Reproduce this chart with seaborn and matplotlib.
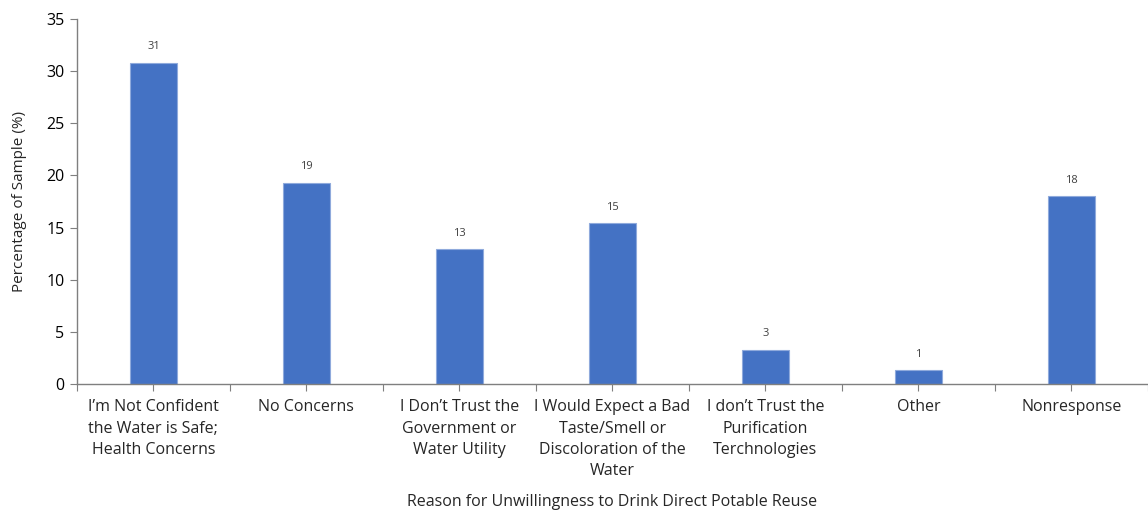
import matplotlib
matplotlib.use("Agg")
import matplotlib.pyplot as plt
import seaborn as sns
import pandas as pd
import numpy as np

categories = [
    "I\u2019m Not Confident\nthe Water is Safe;\nHealth Concerns",
    "No Concerns",
    "I Don\u2019t Trust the\nGovernment or\nWater Utility",
    "I Would Expect a Bad\nTaste/Smell or\nDiscoloration of the\nWater",
    "I don\u2019t Trust the\nPurification\nTerchnologies",
    "Other",
    "Nonresponse",
]
values = [30.8, 19.3, 12.9, 15.4, 3.3, 1.3, 18.0]
value_labels = ["31", "19", "13", "15", "3", "1", "18"]
y_ticks = [0, 5, 10, 15, 20, 25, 30, 35]

sns.set_theme(style="white")
plt.rcParams['font.family'] = ['Open Sans', 'DejaVu Sans']

df = pd.DataFrame({"cat": categories, "val": values})

fig = plt.figure(figsize=(11.48, 5.13), dpi=100)
ax = fig.add_axes([0.067, 0.2515, 0.933, 0.7115])
sns.barplot(data=df, x="cat", y="val", color="#4472C4", width=0.31,
            edgecolor="#8FAADC", linewidth=0.8, saturation=1, ax=ax)

for i, (v, lab) in enumerate(zip(values, value_labels)):
    ax.text(i, v + 1.0, lab, ha="center", va="bottom", fontsize=8, color="#404040")

ax.set_xlim(-0.5, len(categories) - 0.5)
ax.set_ylim(0, 35)
ax.set_yticks(y_ticks)
ax.set_yticklabels([str(t) for t in y_ticks], fontsize=11.5, color="#000000")
ax.set_xticks(np.arange(len(categories)))
ax.set_xticklabels(categories, fontsize=11.5, va="top", linespacing=1.45)
ax.set_xticks(np.arange(-0.5, len(categories), 1.0), minor=True)
ax.tick_params(axis="x", which="both", direction="out", length=5, width=0.8,
               color="#7F7F7F", bottom=True)
ax.tick_params(axis="x", which="major", pad=6)
ax.tick_params(axis="y", direction="out", length=5, width=0.8, color="#7F7F7F", left=True, pad=4)

for s in ["top", "right"]:
    ax.spines[s].set_visible(False)
for s in ["left", "bottom"]:
    ax.spines[s].set_color("#7F7F7F")
    ax.spines[s].set_linewidth(1.0)

ax.set_xlabel("Reason for Unwillingness to Drink Direct Potable Reuse", fontsize=11.5, labelpad=10.5)
ax.set_ylabel("Percentage of Sample (%)", fontsize=11, labelpad=14)

fig.savefig("out.png", dpi=100)
